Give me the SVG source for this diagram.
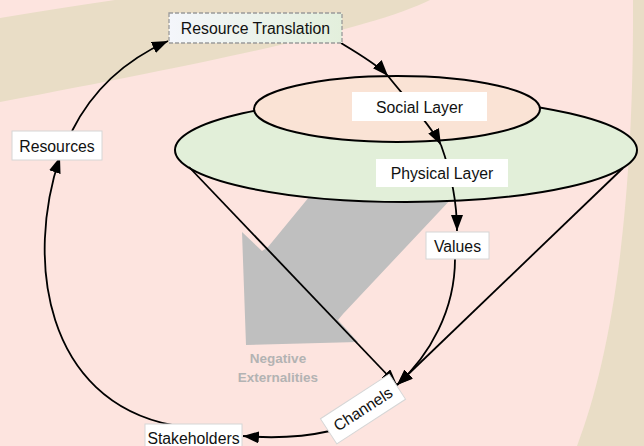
<svg xmlns="http://www.w3.org/2000/svg" width="644" height="446" viewBox="0 0 644 446">
<style>
.lbl{font-family:"Liberation Sans",Arial,sans-serif;font-size:15.8px;fill:#111;text-anchor:middle}
.box{fill:#ffffff;stroke:#d6d6d6;stroke-width:1}
.wbox{fill:#ffffff;stroke:none}
.con{fill:none;stroke:#000;stroke-width:1.8}
.neg{font-family:"Liberation Sans",Arial,sans-serif;font-size:13.5px;font-weight:bold;fill:#b3b3b3;text-anchor:middle}
</style>
<defs>
<marker id="ah" viewBox="0 0 16 12" refX="16" refY="6" markerWidth="16" markerHeight="12" markerUnits="userSpaceOnUse" orient="auto">
<path d="M0,0 L16,6 L0,12 z" fill="#000"/>
</marker>
<linearGradient id="rtg" x1="0" y1="0" x2="1" y2="0">
<stop offset="0" stop-color="#f4f6fb"/>
<stop offset="1" stop-color="#e3efdc"/>
</linearGradient>
</defs>
<rect width="644" height="446" fill="#fde4df"/>
<path d="M0,18 Q60,8 115,0 L430,0 C380,25 250,55 0,102 Z" fill="#e9ddc6"/>
<path d="M633,0 L644,0 L644,446 L577,446 C610,360 634,220 633,0 Z" fill="#e9ddc6"/>
<polygon id="negative-arrow" points="323,180 469,180 343,314 338,320 358,342 246,345 242,232 262,251 268,247" fill="#bfbfbf"/>
<g id="physical-layer-ellipse"><ellipse cx="406" cy="150" rx="231" ry="52" fill="#e2efd9" stroke="#000" stroke-width="2"/></g>
<g id="social-layer-ellipse"><ellipse cx="397" cy="109" rx="143" ry="33" fill="#fae3d5" stroke="#000" stroke-width="2"/></g>
<g id="connectors">
<path class="con" d="M72,131 C95,85 130,58 168,41" marker-end="url(#ah)"/>
<path class="con" d="M341,43 C360,55 378,65 388,76" marker-end="url(#ah)"/>
<path class="con" d="M388,76 C402,94 430,124 441,145" marker-end="url(#ah)"/>
<path class="con" d="M441,145 C450,170 457,200 457,231" marker-end="url(#ah)"/>
<path class="con" d="M189,167 L397,385" marker-end="url(#ah)"/>
<path class="con" d="M623,168 L397,385" marker-end="url(#ah)"/>
<path class="con" d="M455,259 C455,310 430,355 397,385" marker-end="url(#ah)"/>
<path class="con" d="M330,431 Q290,440 243,436" marker-end="url(#ah)"/>
<path class="con" d="M172,425 C45,400 25,260 60,157" marker-end="url(#ah)"/>
</g>
<g id="resource-translation">
<rect x="169" y="13" width="173" height="30" fill="url(#rtg)" stroke="#9a9a9a" stroke-width="1.3" stroke-dasharray="4,2"/>
<text class="lbl" x="255.5" y="34">Resource Translation</text>
</g>
<g id="social-layer">
<rect class="wbox" x="352" y="92" width="135" height="29"/>
<text class="lbl" x="419.5" y="112.5">Social Layer</text>
</g>
<g id="physical-layer">
<rect class="wbox" x="376" y="159" width="132" height="28"/>
<text class="lbl" x="442" y="179">Physical Layer</text>
</g>
<g id="values">
<rect class="box" x="426" y="232" width="63" height="27"/>
<text class="lbl" x="457.5" y="251.5">Values</text>
</g>
<g id="resources">
<rect class="box" x="12" y="131" width="90" height="29"/>
<text class="lbl" x="57" y="151.5">Resources</text>
</g>
<g id="stakeholders">
<rect class="box" x="145" y="424" width="97" height="28"/>
<text class="lbl" x="193.5" y="443.5">Stakeholders</text>
</g>
<g id="channels" transform="translate(363,409) rotate(-33)">
<rect class="box" x="-41" y="-15" width="82" height="30"/>
<text class="lbl" x="0" y="5.5">Channels</text>
</g>
<g id="negative-externalities">
<text class="neg" x="278" y="363">Negative</text>
<text class="neg" x="278" y="382">Externalities</text>
</g>
</svg>
